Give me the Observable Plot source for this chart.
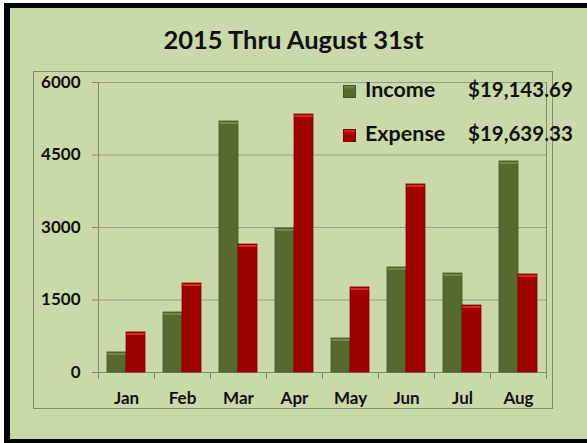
<!DOCTYPE html>
<html>
<head>
<meta charset="utf-8">
<script src="https://cdn.jsdelivr.net/npm/d3@7"></script>
<script src="https://cdn.jsdelivr.net/npm/@observablehq/plot@0.6"></script>
<style>
  html, body { margin: 0; padding: 0; background: #ffffff; overflow: hidden; }
  #page { position: relative; width: 587px; height: 443px; overflow: hidden; font-family: Lato, "DejaVu Sans", sans-serif; color: #111; }
  #blk { position: absolute; left: 4px; top: 3px; width: 600px; height: 445px; background: #000; }
  #grn { position: absolute; left: 10px; top: 8px; width: 600px; height: 431px; background: #c9d9a8; }
  #box { position: absolute; left: 33px; top: 71px; width: 520px; height: 338px; box-sizing: border-box; border: 1px solid #7f8b6b; }
  #title { position: absolute; left: 0; top: 27px; width: 587px; text-align: center; font-size: 25.5px; font-weight: bold; line-height: 25px; }
  #chart { position: absolute; left: 0; top: 0; }
  .leg { position: absolute; left: 343px; font-size: 21.5px; font-weight: bold; line-height: 21px; white-space: nowrap; }
  .leg .sw { position: absolute; left: 0; width: 13px; height: 13px; box-sizing: border-box; }
  .leg .nm { position: absolute; left: 22px; top: 0; }
  .leg .amt { position: absolute; left: 125px; top: 0; font-size: 20.5px; }
</style>
</head>
<body>
<div id="page">
  <div id="blk"></div>
  <div id="grn"></div>
  <div id="box"></div>
  <div id="title"></div>
  <div id="chart"></div>
  <div id="legend"></div>
</div>
<script>
// ---- data ----
const titleText = "2015 Thru August 31st";
const months = ["Jan", "Feb", "Mar", "Apr", "May", "Jun", "Jul", "Aug"];
const seriesNames = ["Income", "Expense"];
const income = [414, 1241, 5193, 2979, 703, 2172, 2048, 4366];
const expense = [828, 1841, 2648, 5338, 1759, 3890, 1386, 2028];
const totals = ["$19,143.69", "$19,639.33"];
const yTicks = [0, 1500, 3000, 4500, 6000];

// ---- styles ----
const fills = ["#566a2d", "#a10000"];
const edges = ["#44561f", "#840000"];
const highlights = ["#74884a", "#d42a2a"];
const gridColor = "#979f88";
const axisColor = "#808a6e";

const rows = [];
months.forEach((m, i) => {
  rows.push({month: m, series: "Income", value: income[i]});
  rows.push({month: m, series: "Expense", value: expense[i]});
});

const W = 587, H = 443;
const mL = 96, mR = 40, mT = 82, mB = 71;
const plotH = H - mT - mB;

document.getElementById("title").textContent = titleText;

const chart = Plot.plot({
  width: W,
  height: H,
  marginLeft: mL,
  marginRight: mR,
  marginTop: mT,
  marginBottom: mB,
  style: {background: "transparent", fontFamily: "Lato, sans-serif", color: "#111", overflow: "visible"},
  fx: {domain: months, padding: 0, label: null},
  x: {domain: seriesNames, paddingInner: 0, paddingOuter: 0.41, axis: null},
  y: {domain: [0, 6000], axis: null},
  color: {domain: seriesNames, range: fills},
  marks: [
    Plot.gridY(yTicks.filter(d => d > 0), {stroke: gridColor, strokeOpacity: 1}),
    Plot.frame({anchor: "left", facetAnchor: "left", insetBottom: -6, stroke: axisColor, strokeOpacity: 1}),
    Plot.frame({anchor: "right", facetAnchor: "right", insetBottom: -6, stroke: axisColor, strokeOpacity: 1}),
    Plot.frame({anchor: "left", insetTop: plotH, insetBottom: -6, stroke: axisColor, strokeOpacity: 1}),
    Plot.ruleY([0], {stroke: axisColor}),
    Plot.barY(rows, {
      fx: "month", x: "series", y: "value", fill: "series",
      stroke: d => edges[seriesNames.indexOf(d.series)], strokeWidth: 0.8
    }),
    Plot.tickY(rows, {
      fx: "month", x: "series", y: "value",
      stroke: d => highlights[seriesNames.indexOf(d.series)], strokeWidth: 2, dy: 1.5,
      insetLeft: 0.5, insetRight: 0.5
    }),
    Plot.axisY(yTicks, {
      tickSize: 6, tickPadding: 12, fontSize: 17, fontWeight: "bold",
      stroke: axisColor, tickFormat: d => String(d), label: null, fill: "#111"
    }),
    Plot.axisFx({anchor: "bottom", tickSize: 0, tickPadding: 19, fontSize: 17, fontWeight: "bold", label: null, fill: "#111"})
  ]
});
document.getElementById("chart").appendChild(chart);

// ---- legend ----
const legend = document.getElementById("legend");
const legTops = [79, 123];
seriesNames.forEach((s, i) => {
  const row = document.createElement("div");
  row.className = "leg";
  row.style.top = legTops[i] + "px";
  const sw = document.createElement("div");
  sw.className = "sw";
  sw.style.top = "6px";
  sw.style.background = `linear-gradient(${highlights[i]}, ${fills[i]} 35%, ${fills[i]})`;
  sw.style.border = `1px solid ${edges[i]}`;
  const nm = document.createElement("span");
  nm.className = "nm";
  nm.textContent = s;
  const amt = document.createElement("span");
  amt.className = "amt";
  amt.textContent = totals[i];
  row.appendChild(sw);
  row.appendChild(nm);
  row.appendChild(amt);
  legend.appendChild(row);
});
</script>
</body>
</html>
